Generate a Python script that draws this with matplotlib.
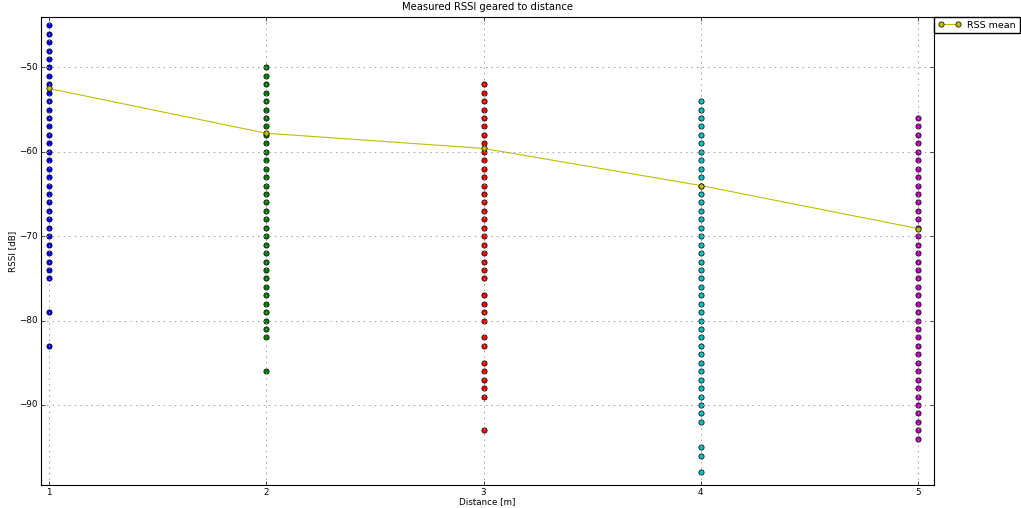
import numpy as np
import matplotlib
matplotlib.use("Agg")
import matplotlib.pyplot as plt

# RSSI readings per distance (dB)
distances = [1, 2, 3, 4, 5]
rssi_1m = list(range(-45, -76, -1)) + [-79, -83]
rssi_2m = list(range(-50, -83, -1)) + [-86]
rssi_3m = (list(range(-52, -76, -1)) + list(range(-77, -81, -1))
           + [-82, -83] + list(range(-85, -90, -1)) + [-93])
rssi_4m = list(range(-54, -93, -1)) + [-95, -96, -98]
rssi_5m = list(range(-56, -95, -1))
rssi_mean = [-52.5, -57.8, -59.6, -64.0, -69.1]
point_colors = ['b', 'g', 'r', 'c', 'm']

plt.style.use('classic')
plt.rcParams['font.size'] = 6.3

fig = plt.figure(figsize=(10.21, 5.08), dpi=100)
ax = fig.add_axes([0.040, 0.045, 0.875, 0.922])

for d, vals, col in zip(distances, [rssi_1m, rssi_2m, rssi_3m, rssi_4m, rssi_5m], point_colors):
    ax.plot([d] * len(vals), vals, 'o', color=col, markersize=3.8, markeredgewidth=0.5)

ax.plot(distances, rssi_mean, 'o-', color='y', markersize=3.8, markeredgewidth=0.5,
        linewidth=0.8, label='RSS mean')

ax.set_xlim(0.963, 5.074)
ax.set_ylim(-99.5, -44)
ax.set_xticks(distances)
ax.grid(True, color='0.6', linestyle=':', linewidth=0.7)
ax.tick_params(length=3, width=0.5, pad=2)
for s in ax.spines.values():
    s.set_linewidth(0.8)

ax.set_title('Measured RSSI geared to distance', fontsize=7.2)
ax.set_xlabel('Distance [m]', labelpad=0)
ax.set_ylabel('RSSI [dB]', labelpad=2)
ax.legend(loc='upper left', bbox_to_anchor=(1, 1), borderaxespad=0, numpoints=2,
          fontsize=6.8, handlelength=2.4, handletextpad=0.7, borderpad=0.4)

fig.savefig('out.png', dpi=100)
